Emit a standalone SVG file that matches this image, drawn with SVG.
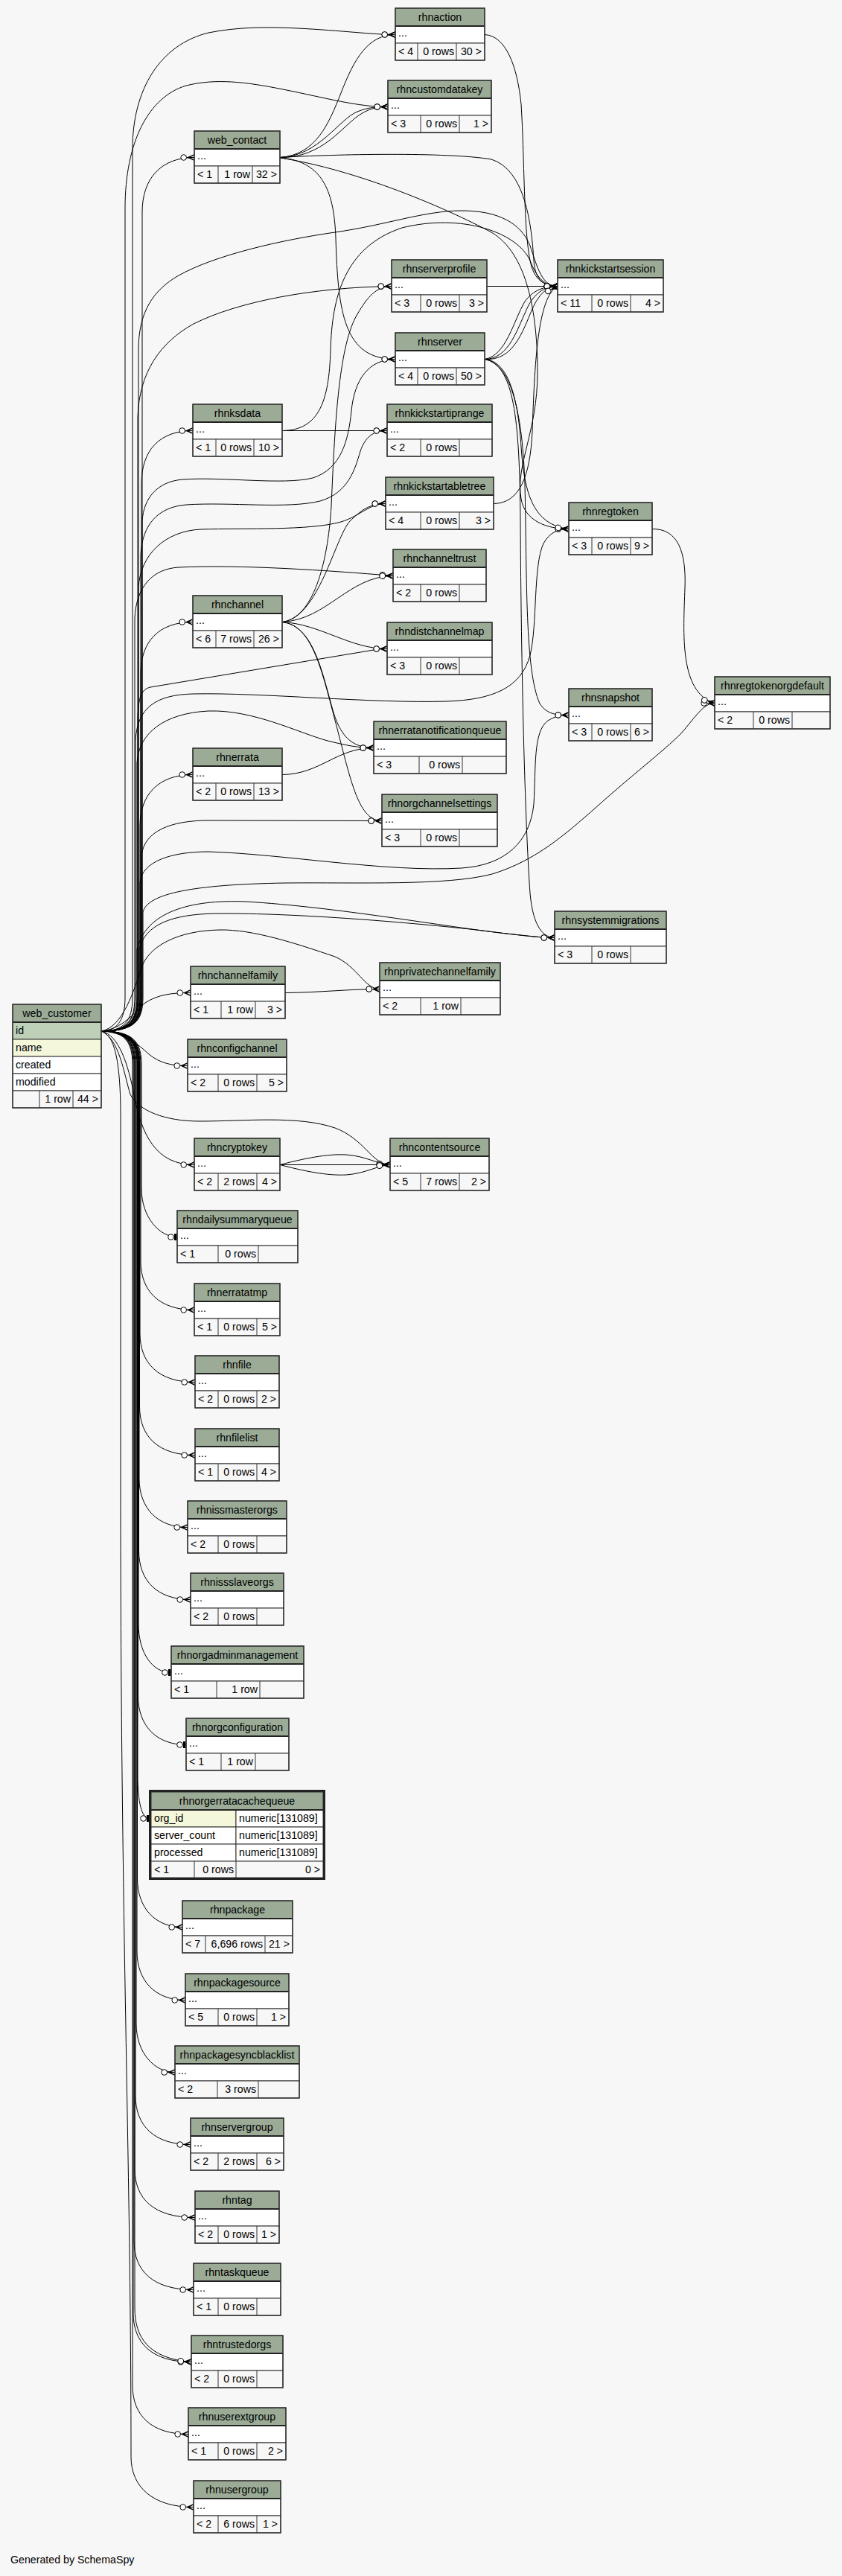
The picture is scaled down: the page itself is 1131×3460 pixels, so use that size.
<svg xmlns="http://www.w3.org/2000/svg" width="1131" height="3460" viewBox="0 0 1131 3460">
<style>
.t{font-family:"Liberation Sans",Arial,Helvetica,sans-serif;font-size:14.2px;fill:#000}
.c{text-anchor:middle}
.r{text-anchor:end}
.h{fill:#9bab96;stroke:#333;stroke-width:1}
.w{fill:#fff;stroke:#333;stroke-width:1}
.f{fill:#f7f7f7;stroke:#333;stroke-width:1}
.s{fill:none;stroke:#333;stroke-width:1}
.hl{fill:none;stroke:#222;stroke-width:2}
.b{fill:none;stroke:#333;stroke-width:1.4}
.e{fill:none;stroke:#000;stroke-width:1;marker-end:url(#crow)}
.o{fill:none;stroke:#000;stroke-width:1;marker-end:url(#tee)}
</style>
<defs>
<marker id="crow" markerUnits="userSpaceOnUse" markerWidth="26" markerHeight="14" viewBox="-22 -7 26 14" refX="0" refY="0" orient="auto" overflow="visible">
<path d="M0,-4.5 L-10,0 L0,4.5 L0,3 L-6,0 L0,-3 Z" fill="#000"/>
<path d="M-10,0 L0,0" stroke="#000" stroke-width="1"/>
<circle cx="-14.3" cy="0" r="3.8" fill="#fff" stroke="#000" stroke-width="1"/>
</marker>
<marker id="tee" markerUnits="userSpaceOnUse" markerWidth="20" markerHeight="14" viewBox="-16 -7 20 14" refX="0" refY="0" orient="auto" overflow="visible">
<rect x="-4" y="-4.5" width="3" height="9" fill="#000"/>
<circle cx="-8.5" cy="0" r="3.8" fill="#fff" stroke="#000" stroke-width="1"/>
</marker>
</defs>
<rect x="0" y="0" width="1131" height="3460" fill="#f7f7f7"/>
<g id="connectors">
<path class="e" d="M136,1385 C179,1385 191,1372 191,1340 L191,285 C191,240 216,211.5 261,211.5"/>
<path class="e" d="M136,1385 C178,1385 190,1372 190,1340 L190,650 C190,605 214,578.5 259,578.5"/>
<path class="e" d="M136,1385 C177,1385 189,1372 189,1340 L189,905 C189,862 213,835.5 259,835.5"/>
<path class="e" d="M136,1385 C176,1385 188,1372 188,1340 L188,1110 C188,1067 213,1040.5 259,1040.5"/>
<path class="e" d="M136,1385 C165,1382 180,1360 195,1347 C212,1336 230,1333.5 256,1333.5"/>
<path class="e" d="M136,1385 C165,1386 185,1402 200,1416 C215,1428 230,1431.5 252,1431.5"/>
<path class="e" d="M136,1385 C160,1390 172,1430 180,1470 C190,1525 210,1564.5 261,1564.5"/>
<path class="o" d="M136,1385 C178,1385 190,1398 190,1430 L190,1596 C190,1636 215,1661.5 238,1661.5"/>
<path class="e" d="M136,1385 C177,1385 189,1398 189,1430 L189,1694 C189,1734 214,1759.5 261,1759.5"/>
<path class="e" d="M136,1385 C176,1385 188,1398 188,1430 L188,1791 C188,1831 213,1856.5 262,1856.5"/>
<path class="e" d="M136,1385 C175,1385 187.5,1398 187.5,1430 L187.5,1889 C187.5,1929 212,1954.5 262,1954.5"/>
<path class="e" d="M136,1385 C175,1385 187,1398 187,1430 L187,1986 C187,2026 212,2051.5 252,2051.5"/>
<path class="e" d="M136,1385 C174,1385 186.5,1398 186.5,1430 L186.5,2083 C186.5,2123 211,2148.5 256,2148.5"/>
<path class="o" d="M136,1385 C174,1385 186,1398 186,1430 L186,2181 C186,2221 205,2246.5 230,2246.5"/>
<path class="o" d="M136,1385 C173,1385 185.5,1398 185.5,1430 L185.5,2278 C185.5,2318 210,2343.5 250,2343.5"/>
<path class="o" d="M136,1385 C173,1385 185,1398 185,1430 L185,2385 C185,2420 190,2442.5 201,2442.5"/>
<path class="e" d="M136,1385 C172,1385 184.5,1398 184.5,1430 L184.5,2523 C184.5,2563 209,2588.5 245,2588.5"/>
<path class="e" d="M136,1385 C172,1385 184,1398 184,1430 L184,2621 C184,2661 209,2686.5 249,2686.5"/>
<path class="e" d="M136,1385 C171,1385 183,1398 183,1430 L183,2718 C183,2758 208,2783.5 235,2783.5"/>
<path class="e" d="M136,1385 C170,1385 182,1398 182,1430 L182,2815 C182,2855 207,2880.5 256,2880.5"/>
<path class="e" d="M136,1385 C169,1385 181,1398 181,1430 L181,2913 C181,2953 206,2978.5 262,2978.5"/>
<path class="e" d="M136,1385 C168,1385 180,1398 180,1430 L180,3010 C180,3050 205,3075.5 260,3075.5"/>
<path class="e" d="M136,1385 C167,1385 179,1398 179,1430 L179,3107 C179,3147 204,3172.5 257,3172.5"/>
<path class="e" d="M136,1385 C169,1385 181,1398 181,1430 L181,3100 C181,3140 200,3168 257,3172.5"/>
<path class="e" d="M136,1385 C166,1385 178,1398 178,1430 L178,3204 C178,3244 203,3269.5 253,3269.5"/>
<path class="e" d="M136,1385 C155,1390 162,1430 162,1500 L162,2000 C162,2600 176,2900 176,3300 C176,3340 205,3367.5 260,3367.5"/>
<path class="e" d="M136,1385 C166,1385 178,1372 178,1340 L178,200 C178,120 215,60 280,44 C320,36 360,36 400,38 C460,41 500,46.5 531,46.5"/>
<path class="e" d="M136,1385 C156,1385 168,1372 168,1340 L168,280 C168,190 200,130 250,115 C290,105 330,110 380,120 C440,132 480,143.5 521,143.5"/>
<path class="e" d="M136,1385 C174,1385 186,1372 186,1340 L186,470 C186,420 205,390 240,370 C290,342 380,322 450,312 C520,302 570,283 620,283 C670,283 700,300 712,330 C722,360 728,384.5 749,384.5"/>
<path class="e" d="M136,1385 C173,1385 185,1372 185,1340 L185,560 C187,500 215,460 260,435 C320,405 420,386 526,384.5"/>
<path class="e" d="M136,1385 C179,1385 191,1372 191,1340 L191,700 C193,668 212,647 245,644 C300,640 380,652 420,642 C458,630 468,592 472,552 C476,510 495,482.5 531,482.5"/>
<path class="e" d="M136,1385 C177,1385 189,1372 189,1340 L189,745 C191,705 212,681 250,678 C310,674 385,684 430,673 C468,662 477,630 484,606 C491,586 502,578.5 520,578.5"/>
<path class="e" d="M136,1385 C174,1385 186,1372 186,1340 L186,790 C188,745 222,713 270,711 C330,709 415,713 458,701 C484,693 496,676.5 518,676.5"/>
<path class="e" d="M136,1385 C169,1385 181,1372 181,1340 L181,830 C183,788 205,764 240,762 C320,758 440,766 528,773.5"/>
<path class="e" d="M136,1385 C173,1385 185,1372 185,1340 L185,965 C186,935 190,926 202,923 L505,872.5 C510,871.5 514,871.5 520,871.5"/>
<path class="e" d="M136,1385 C172,1385 184,1372 184,1340 L184,1025 C186,985 220,958 280,955 C340,953 400,984 440,995 C465,1001 480,1004.5 502,1004.5"/>
<path class="e" d="M136,1385 C170,1385 182,1372 182,1340 L182,995 C184,950 210,933 260,932 C350,930 500,945 600,942 C660,940 700,925 712,880 C722,840 716,760 730,730 C738,716 748,710.5 764,710.5"/>
<path class="e" d="M136,1385 C178,1385 190,1372 190,1340 L190,1150 C193,1116 230,1102 280,1102 L513,1102.5"/>
<path class="e" d="M136,1385 C176,1385 188,1372 188,1340 L188,1185 C191,1157 230,1144 280,1144 C380,1147 520,1172 620,1166 C680,1162 712,1130 717,1080 C720,1030 716,982 736,968 C746,962 752,960.5 764,960.5"/>
<path class="e" d="M136,1385 C180,1385 192,1372 192,1340 L192,1225 C198,1200 260,1188 383,1186 C480,1185 600,1190 661,1174 C720,1156 760,1120 800,1085 C850,1040 890,1010 915,985 C935,962 945,944.5 960,944.5"/>
<path class="e" d="M136,1385 C175,1385 187,1372 187,1340 L187,1275 C195,1242 230,1228 290,1227 C400,1226 560,1240 640,1249 C690,1255 720,1259.5 745,1259.5"/>
<path class="e" d="M136,1385 C172,1385 184,1372 184,1340 L184,1275 C196,1225 255,1208 330,1211 C450,1218 600,1245 680,1254 C710,1257 728,1259.5 745,1259.5"/>
<path class="e" d="M136,1385 C165,1380 180,1330 190,1300 C200,1270 240,1250 295,1249 C340,1248 400,1268 450,1285 C480,1298 490,1328.5 510,1328.5"/>
<path class="e" d="M136,1385 C160,1395 166,1440 175,1470 C186,1492 222,1506 268,1506 C330,1506 400,1498 450,1515 C490,1530 500,1564.5 524,1564.5"/>
<path class="e" d="M376,211.5 C425,208 442,165 458,125 C476,78 495,46.5 531,46.5"/>
<path class="e" d="M376,211.5 C428,210 455,160 480,150 C495,144 505,143.5 521,143.5"/>
<path class="e" d="M376,211.5 C435,212 460,168 485,153 C498,145 508,143.5 521,143.5"/>
<path class="e" d="M376,211.5 C450,207 600,204 660,214 C705,228 714,300 717,350 C719,378 732,384.5 749,384.5"/>
<path class="e" d="M376,212 C480,228 600,280 660,312 C708,340 722,420 722,500 C722,580 692,625 700,670 C705,700 735,710.5 764,710.5"/>
<path class="e" d="M376,212 C436,216 449,262 451,320 C454,420 462,482.5 531,482.5"/>
<path class="e" d="M379,578.5 L520,578.5"/>
<path class="e" d="M379,578.5 C428,578 442,540 444,470 C446,400 462,332 540,306 C620,286 695,312 712,350 C720,372 732,384.5 749,384.5"/>
<path class="e" d="M379,835.5 C420,830 440,760 445,680 C450,560 456,462 480,422 C494,398 506,384.5 526,384.5"/>
<path class="e" d="M379,835.5 C428,830 450,722 470,700 C486,684 498,676.5 518,676.5"/>
<path class="e" d="M379,835.5 C440,832 468,774 528,773.5"/>
<path class="e" d="M379,835.5 C430,838 470,871.5 520,871.5"/>
<path class="e" d="M379,835.5 C420,840 432,900 446,950 C456,988 472,1004.5 502,1004.5"/>
<path class="e" d="M379,835.5 C420,840 432,900 452,975 C472,1052 482,1102.5 513,1102.5"/>
<path class="e" d="M379,1040.5 C430,1040 452,1004.5 502,1004.5"/>
<path class="e" d="M383,1333.5 C430,1333 470,1328.5 510,1328.5"/>
<path class="e" d="M376,1564.5 C420,1553 445,1550 465,1551 C492,1553 505,1563 524,1564.5"/>
<path class="e" d="M376,1564.5 L524,1564.5"/>
<path class="e" d="M376,1564.5 C420,1576 445,1579 465,1578 C492,1576 505,1566 524,1564.5"/>
<path class="e" d="M651,46.5 C680,48 695,90 700,140 C705,220 703,320 714,358 C720,378 734,384.5 749,384.5"/>
<path class="e" d="M654,384.5 L749,384.5"/>
<path class="e" d="M651,482.5 C680,478 690,430 705,405 C716,390 730,384.5 749,384.5"/>
<path class="e" d="M651,482.5 C685,482 695,440 710,410 C720,392 733,384.5 749,384.5"/>
<path class="e" d="M651,482.5 C690,485 702,445 715,415 C724,395 735,384.5 749,384.5"/>
<path class="e" d="M651,482.5 C685,485 696,540 700,600 C704,660 715,705 764,710.5"/>
<path class="e" d="M651,482.5 C688,488 702,560 705,650 C708,780 705,900 725,945 C735,960 748,960.5 764,960.5"/>
<path class="e" d="M651,482.5 C690,490 698,560 699,700 C700,900 705,1100 712,1200 C716,1245 730,1259.5 745,1259.5"/>
<path class="e" d="M663,676.5 C698,676 712,640 715,580 C718,490 722,398 749,384.5"/>
<path class="e" d="M876,710.5 C910,710 922,740 920,790 C918,850 912,930 960,944.5"/>
</g>
<g id="web_contact"><rect class="h" x="261" y="176" width="115" height="24"/><rect class="w" x="261" y="200" width="115" height="23"/><rect class="f" x="261" y="223" width="115" height="23"/><path class="s" d="M293,223v23M339,223v23"/><path class="hl" d="M261,200h115"/><rect class="b" x="261" y="176" width="115" height="70"/><text class="t c" x="318.5" y="192.5">web_contact</text><text class="t" x="265" y="214">...</text><text class="t" x="265" y="238.5">&lt; 1</text><text class="t r" x="336" y="238.5">1 row</text><text class="t r" x="372" y="238.5">32 &gt;</text></g>
<g id="rhnksdata"><rect class="h" x="259" y="543" width="120" height="24"/><rect class="w" x="259" y="567" width="120" height="23"/><rect class="f" x="259" y="590" width="120" height="23"/><path class="s" d="M290,590v23M341,590v23"/><path class="hl" d="M259,567h120"/><rect class="b" x="259" y="543" width="120" height="70"/><text class="t c" x="319" y="559.5">rhnksdata</text><text class="t" x="263" y="581">...</text><text class="t" x="263" y="605.5">&lt; 1</text><text class="t r" x="338" y="605.5">0 rows</text><text class="t r" x="375" y="605.5">10 &gt;</text></g>
<g id="rhnchannel"><rect class="h" x="259" y="800" width="120" height="24"/><rect class="w" x="259" y="824" width="120" height="23"/><rect class="f" x="259" y="847" width="120" height="23"/><path class="s" d="M290,847v23M341,847v23"/><path class="hl" d="M259,824h120"/><rect class="b" x="259" y="800" width="120" height="70"/><text class="t c" x="319" y="816.5">rhnchannel</text><text class="t" x="263" y="838">...</text><text class="t" x="263" y="862.5">&lt; 6</text><text class="t r" x="338" y="862.5">7 rows</text><text class="t r" x="375" y="862.5">26 &gt;</text></g>
<g id="rhnerrata"><rect class="h" x="259" y="1005" width="120" height="24"/><rect class="w" x="259" y="1029" width="120" height="23"/><rect class="f" x="259" y="1052" width="120" height="23"/><path class="s" d="M290,1052v23M341,1052v23"/><path class="hl" d="M259,1029h120"/><rect class="b" x="259" y="1005" width="120" height="70"/><text class="t c" x="319" y="1021.5">rhnerrata</text><text class="t" x="263" y="1043">...</text><text class="t" x="263" y="1067.5">&lt; 2</text><text class="t r" x="338" y="1067.5">0 rows</text><text class="t r" x="375" y="1067.5">13 &gt;</text></g>
<g id="rhnchannelfamily"><rect class="h" x="256" y="1298" width="127" height="24"/><rect class="w" x="256" y="1322" width="127" height="23"/><rect class="f" x="256" y="1345" width="127" height="23"/><path class="s" d="M297,1345v23M343,1345v23"/><path class="hl" d="M256,1322h127"/><rect class="b" x="256" y="1298" width="127" height="70"/><text class="t c" x="319.5" y="1314.5">rhnchannelfamily</text><text class="t" x="260" y="1336">...</text><text class="t" x="260" y="1360.5">&lt; 1</text><text class="t r" x="340" y="1360.5">1 row</text><text class="t r" x="379" y="1360.5">3 &gt;</text></g>
<g id="rhnconfigchannel"><rect class="h" x="252" y="1396" width="133" height="24"/><rect class="w" x="252" y="1420" width="133" height="23"/><rect class="f" x="252" y="1443" width="133" height="23"/><path class="s" d="M293,1443v23M345,1443v23"/><path class="hl" d="M252,1420h133"/><rect class="b" x="252" y="1396" width="133" height="70"/><text class="t c" x="318.5" y="1412.5">rhnconfigchannel</text><text class="t" x="256" y="1434">...</text><text class="t" x="256" y="1458.5">&lt; 2</text><text class="t r" x="342" y="1458.5">0 rows</text><text class="t r" x="381" y="1458.5">5 &gt;</text></g>
<g id="rhncryptokey"><rect class="h" x="261" y="1529" width="115" height="24"/><rect class="w" x="261" y="1553" width="115" height="23"/><rect class="f" x="261" y="1576" width="115" height="23"/><path class="s" d="M293,1576v23M345,1576v23"/><path class="hl" d="M261,1553h115"/><rect class="b" x="261" y="1529" width="115" height="70"/><text class="t c" x="318.5" y="1545.5">rhncryptokey</text><text class="t" x="265" y="1567">...</text><text class="t" x="265" y="1591.5">&lt; 2</text><text class="t r" x="342" y="1591.5">2 rows</text><text class="t r" x="372" y="1591.5">4 &gt;</text></g>
<g id="rhndailysummaryqueue"><rect class="h" x="238" y="1626" width="162" height="24"/><rect class="w" x="238" y="1650" width="162" height="23"/><rect class="f" x="238" y="1673" width="162" height="23"/><path class="s" d="M293,1673v23M347,1673v23"/><path class="hl" d="M238,1650h162"/><rect class="b" x="238" y="1626" width="162" height="70"/><text class="t c" x="319" y="1642.5">rhndailysummaryqueue</text><text class="t" x="242" y="1664">...</text><text class="t" x="242" y="1688.5">&lt; 1</text><text class="t r" x="344" y="1688.5">0 rows</text></g>
<g id="rhnerratatmp"><rect class="h" x="261" y="1724" width="115" height="24"/><rect class="w" x="261" y="1748" width="115" height="23"/><rect class="f" x="261" y="1771" width="115" height="23"/><path class="s" d="M293,1771v23M345,1771v23"/><path class="hl" d="M261,1748h115"/><rect class="b" x="261" y="1724" width="115" height="70"/><text class="t c" x="318.5" y="1740.5">rhnerratatmp</text><text class="t" x="265" y="1762">...</text><text class="t" x="265" y="1786.5">&lt; 1</text><text class="t r" x="342" y="1786.5">0 rows</text><text class="t r" x="372" y="1786.5">5 &gt;</text></g>
<g id="rhnfile"><rect class="h" x="262" y="1821" width="113" height="24"/><rect class="w" x="262" y="1845" width="113" height="23"/><rect class="f" x="262" y="1868" width="113" height="23"/><path class="s" d="M293,1868v23M345,1868v23"/><path class="hl" d="M262,1845h113"/><rect class="b" x="262" y="1821" width="113" height="70"/><text class="t c" x="318.5" y="1837.5">rhnfile</text><text class="t" x="266" y="1859">...</text><text class="t" x="266" y="1883.5">&lt; 2</text><text class="t r" x="342" y="1883.5">0 rows</text><text class="t r" x="371" y="1883.5">2 &gt;</text></g>
<g id="rhnfilelist"><rect class="h" x="262" y="1919" width="113" height="24"/><rect class="w" x="262" y="1943" width="113" height="23"/><rect class="f" x="262" y="1966" width="113" height="23"/><path class="s" d="M293,1966v23M345,1966v23"/><path class="hl" d="M262,1943h113"/><rect class="b" x="262" y="1919" width="113" height="70"/><text class="t c" x="318.5" y="1935.5">rhnfilelist</text><text class="t" x="266" y="1957">...</text><text class="t" x="266" y="1981.5">&lt; 1</text><text class="t r" x="342" y="1981.5">0 rows</text><text class="t r" x="371" y="1981.5">4 &gt;</text></g>
<g id="rhnissmasterorgs"><rect class="h" x="252" y="2016" width="133" height="24"/><rect class="w" x="252" y="2040" width="133" height="23"/><rect class="f" x="252" y="2063" width="133" height="23"/><path class="s" d="M293,2063v23M345,2063v23"/><path class="hl" d="M252,2040h133"/><rect class="b" x="252" y="2016" width="133" height="70"/><text class="t c" x="318.5" y="2032.5">rhnissmasterorgs</text><text class="t" x="256" y="2054">...</text><text class="t" x="256" y="2078.5">&lt; 2</text><text class="t r" x="342" y="2078.5">0 rows</text></g>
<g id="rhnissslaveorgs"><rect class="h" x="256" y="2113" width="125" height="24"/><rect class="w" x="256" y="2137" width="125" height="23"/><rect class="f" x="256" y="2160" width="125" height="23"/><path class="s" d="M293,2160v23M345,2160v23"/><path class="hl" d="M256,2137h125"/><rect class="b" x="256" y="2113" width="125" height="70"/><text class="t c" x="318.5" y="2129.5">rhnissslaveorgs</text><text class="t" x="260" y="2151">...</text><text class="t" x="260" y="2175.5">&lt; 2</text><text class="t r" x="342" y="2175.5">0 rows</text></g>
<g id="rhnorgadminmanagement"><rect class="h" x="230" y="2211" width="178" height="24"/><rect class="w" x="230" y="2235" width="178" height="23"/><rect class="f" x="230" y="2258" width="178" height="23"/><path class="s" d="M291,2258v23M349,2258v23"/><path class="hl" d="M230,2235h178"/><rect class="b" x="230" y="2211" width="178" height="70"/><text class="t c" x="319" y="2227.5">rhnorgadminmanagement</text><text class="t" x="234" y="2249">...</text><text class="t" x="234" y="2273.5">&lt; 1</text><text class="t r" x="346" y="2273.5">1 row</text></g>
<g id="rhnorgconfiguration"><rect class="h" x="250" y="2308" width="138" height="24"/><rect class="w" x="250" y="2332" width="138" height="23"/><rect class="f" x="250" y="2355" width="138" height="23"/><path class="s" d="M297,2355v23M343,2355v23"/><path class="hl" d="M250,2332h138"/><rect class="b" x="250" y="2308" width="138" height="70"/><text class="t c" x="319" y="2324.5">rhnorgconfiguration</text><text class="t" x="254" y="2346">...</text><text class="t" x="254" y="2370.5">&lt; 1</text><text class="t r" x="340" y="2370.5">1 row</text></g>
<g id="rhnorgerratacachequeue"><rect class="h" x="203" y="2407" width="231" height="24"/><rect fill="#f4f7da" stroke="#333" x="203" y="2431" width="114" height="23"/><rect class="w" x="317" y="2431" width="117" height="23"/><rect class="w" x="203" y="2454" width="114" height="23"/><rect class="w" x="317" y="2454" width="117" height="23"/><rect class="w" x="203" y="2477" width="114" height="23"/><rect class="w" x="317" y="2477" width="117" height="23"/><rect class="f" x="203" y="2500" width="231" height="22"/><path class="s" d="M261,2500v22M317,2500v22"/><path class="hl" d="M203,2431h231"/><rect fill="none" stroke="#222" stroke-width="3" x="201.5" y="2405.5" width="234" height="118"/><text class="t c" x="318.5" y="2424">rhnorgerratacachequeue</text><text class="t" x="207" y="2447">org_id</text><text class="t" x="321" y="2447">numeric[131089]</text><text class="t" x="207" y="2470">server_count</text><text class="t" x="321" y="2470">numeric[131089]</text><text class="t" x="207" y="2493">processed</text><text class="t" x="321" y="2493">numeric[131089]</text><text class="t" x="207" y="2516">&lt; 1</text><text class="t r" x="314" y="2516">0 rows</text><text class="t r" x="430" y="2516">0 &gt;</text></g>
<g id="rhnpackage"><rect class="h" x="245" y="2553" width="148" height="24"/><rect class="w" x="245" y="2577" width="148" height="23"/><rect class="f" x="245" y="2600" width="148" height="23"/><path class="s" d="M276,2600v23M356,2600v23"/><path class="hl" d="M245,2577h148"/><rect class="b" x="245" y="2553" width="148" height="70"/><text class="t c" x="319" y="2569.5">rhnpackage</text><text class="t" x="249" y="2591">...</text><text class="t" x="249" y="2615.5">&lt; 7</text><text class="t r" x="353" y="2615.5">6,696 rows</text><text class="t r" x="389" y="2615.5">21 &gt;</text></g>
<g id="rhnpackagesource"><rect class="h" x="249" y="2651" width="139" height="24"/><rect class="w" x="249" y="2675" width="139" height="23"/><rect class="f" x="249" y="2698" width="139" height="23"/><path class="s" d="M293,2698v23M345,2698v23"/><path class="hl" d="M249,2675h139"/><rect class="b" x="249" y="2651" width="139" height="70"/><text class="t c" x="318.5" y="2667.5">rhnpackagesource</text><text class="t" x="253" y="2689">...</text><text class="t" x="253" y="2713.5">&lt; 5</text><text class="t r" x="342" y="2713.5">0 rows</text><text class="t r" x="384" y="2713.5">1 &gt;</text></g>
<g id="rhnpackagesyncblacklist"><rect class="h" x="235" y="2748" width="167" height="24"/><rect class="w" x="235" y="2772" width="167" height="23"/><rect class="f" x="235" y="2795" width="167" height="23"/><path class="s" d="M292,2795v23M347,2795v23"/><path class="hl" d="M235,2772h167"/><rect class="b" x="235" y="2748" width="167" height="70"/><text class="t c" x="318.5" y="2764.5">rhnpackagesyncblacklist</text><text class="t" x="239" y="2786">...</text><text class="t" x="239" y="2810.5">&lt; 2</text><text class="t r" x="344" y="2810.5">3 rows</text></g>
<g id="rhnservergroup"><rect class="h" x="256" y="2845" width="125" height="24"/><rect class="w" x="256" y="2869" width="125" height="23"/><rect class="f" x="256" y="2892" width="125" height="23"/><path class="s" d="M293,2892v23M345,2892v23"/><path class="hl" d="M256,2869h125"/><rect class="b" x="256" y="2845" width="125" height="70"/><text class="t c" x="318.5" y="2861.5">rhnservergroup</text><text class="t" x="260" y="2883">...</text><text class="t" x="260" y="2907.5">&lt; 2</text><text class="t r" x="342" y="2907.5">2 rows</text><text class="t r" x="377" y="2907.5">6 &gt;</text></g>
<g id="rhntag"><rect class="h" x="262" y="2943" width="113" height="24"/><rect class="w" x="262" y="2967" width="113" height="23"/><rect class="f" x="262" y="2990" width="113" height="23"/><path class="s" d="M293,2990v23M345,2990v23"/><path class="hl" d="M262,2967h113"/><rect class="b" x="262" y="2943" width="113" height="70"/><text class="t c" x="318.5" y="2959.5">rhntag</text><text class="t" x="266" y="2981">...</text><text class="t" x="266" y="3005.5">&lt; 2</text><text class="t r" x="342" y="3005.5">0 rows</text><text class="t r" x="371" y="3005.5">1 &gt;</text></g>
<g id="rhntaskqueue"><rect class="h" x="260" y="3040" width="117" height="24"/><rect class="w" x="260" y="3064" width="117" height="23"/><rect class="f" x="260" y="3087" width="117" height="23"/><path class="s" d="M293,3087v23M345,3087v23"/><path class="hl" d="M260,3064h117"/><rect class="b" x="260" y="3040" width="117" height="70"/><text class="t c" x="318.5" y="3056.5">rhntaskqueue</text><text class="t" x="264" y="3078">...</text><text class="t" x="264" y="3102.5">&lt; 1</text><text class="t r" x="342" y="3102.5">0 rows</text></g>
<g id="rhntrustedorgs"><rect class="h" x="257" y="3137" width="123" height="24"/><rect class="w" x="257" y="3161" width="123" height="23"/><rect class="f" x="257" y="3184" width="123" height="23"/><path class="s" d="M293,3184v23M345,3184v23"/><path class="hl" d="M257,3161h123"/><rect class="b" x="257" y="3137" width="123" height="70"/><text class="t c" x="318.5" y="3153.5">rhntrustedorgs</text><text class="t" x="261" y="3175">...</text><text class="t" x="261" y="3199.5">&lt; 2</text><text class="t r" x="342" y="3199.5">0 rows</text></g>
<g id="rhnuserextgroup"><rect class="h" x="253" y="3234" width="131" height="24"/><rect class="w" x="253" y="3258" width="131" height="23"/><rect class="f" x="253" y="3281" width="131" height="23"/><path class="s" d="M293,3281v23M345,3281v23"/><path class="hl" d="M253,3258h131"/><rect class="b" x="253" y="3234" width="131" height="70"/><text class="t c" x="318.5" y="3250.5">rhnuserextgroup</text><text class="t" x="257" y="3272">...</text><text class="t" x="257" y="3296.5">&lt; 1</text><text class="t r" x="342" y="3296.5">0 rows</text><text class="t r" x="380" y="3296.5">2 &gt;</text></g>
<g id="rhnusergroup"><rect class="h" x="260" y="3332" width="117" height="24"/><rect class="w" x="260" y="3356" width="117" height="23"/><rect class="f" x="260" y="3379" width="117" height="23"/><path class="s" d="M293,3379v23M345,3379v23"/><path class="hl" d="M260,3356h117"/><rect class="b" x="260" y="3332" width="117" height="70"/><text class="t c" x="318.5" y="3348.5">rhnusergroup</text><text class="t" x="264" y="3370">...</text><text class="t" x="264" y="3394.5">&lt; 2</text><text class="t r" x="342" y="3394.5">6 rows</text><text class="t r" x="373" y="3394.5">1 &gt;</text></g>
<g id="rhnaction"><rect class="h" x="531" y="11" width="120" height="24"/><rect class="w" x="531" y="35" width="120" height="23"/><rect class="f" x="531" y="58" width="120" height="23"/><path class="s" d="M561,58v23M613,58v23"/><path class="hl" d="M531,35h120"/><rect class="b" x="531" y="11" width="120" height="70"/><text class="t c" x="591" y="27.5">rhnaction</text><text class="t" x="535" y="49">...</text><text class="t" x="535" y="73.5">&lt; 4</text><text class="t r" x="610" y="73.5">0 rows</text><text class="t r" x="647" y="73.5">30 &gt;</text></g>
<g id="rhncustomdatakey"><rect class="h" x="521" y="108" width="139" height="24"/><rect class="w" x="521" y="132" width="139" height="23"/><rect class="f" x="521" y="155" width="139" height="23"/><path class="s" d="M565,155v23M617,155v23"/><path class="hl" d="M521,132h139"/><rect class="b" x="521" y="108" width="139" height="70"/><text class="t c" x="590.5" y="124.5">rhncustomdatakey</text><text class="t" x="525" y="146">...</text><text class="t" x="525" y="170.5">&lt; 3</text><text class="t r" x="614" y="170.5">0 rows</text><text class="t r" x="656" y="170.5">1 &gt;</text></g>
<g id="rhnserverprofile"><rect class="h" x="526" y="349" width="128" height="24"/><rect class="w" x="526" y="373" width="128" height="23"/><rect class="f" x="526" y="396" width="128" height="23"/><path class="s" d="M565,396v23M617,396v23"/><path class="hl" d="M526,373h128"/><rect class="b" x="526" y="349" width="128" height="70"/><text class="t c" x="590" y="365.5">rhnserverprofile</text><text class="t" x="530" y="387">...</text><text class="t" x="530" y="411.5">&lt; 3</text><text class="t r" x="614" y="411.5">0 rows</text><text class="t r" x="650" y="411.5">3 &gt;</text></g>
<g id="rhnserver"><rect class="h" x="531" y="447" width="120" height="24"/><rect class="w" x="531" y="471" width="120" height="23"/><rect class="f" x="531" y="494" width="120" height="23"/><path class="s" d="M561,494v23M613,494v23"/><path class="hl" d="M531,471h120"/><rect class="b" x="531" y="447" width="120" height="70"/><text class="t c" x="591" y="463.5">rhnserver</text><text class="t" x="535" y="485">...</text><text class="t" x="535" y="509.5">&lt; 4</text><text class="t r" x="610" y="509.5">0 rows</text><text class="t r" x="647" y="509.5">50 &gt;</text></g>
<g id="rhnkickstartiprange"><rect class="h" x="520" y="543" width="141" height="24"/><rect class="w" x="520" y="567" width="141" height="23"/><rect class="f" x="520" y="590" width="141" height="23"/><path class="s" d="M565,590v23M617,590v23"/><path class="hl" d="M520,567h141"/><rect class="b" x="520" y="543" width="141" height="70"/><text class="t c" x="590.5" y="559.5">rhnkickstartiprange</text><text class="t" x="524" y="581">...</text><text class="t" x="524" y="605.5">&lt; 2</text><text class="t r" x="614" y="605.5">0 rows</text></g>
<g id="rhnkickstartabletree"><rect class="h" x="518" y="641" width="145" height="24"/><rect class="w" x="518" y="665" width="145" height="23"/><rect class="f" x="518" y="688" width="145" height="23"/><path class="s" d="M565,688v23M617,688v23"/><path class="hl" d="M518,665h145"/><rect class="b" x="518" y="641" width="145" height="70"/><text class="t c" x="590.5" y="657.5">rhnkickstartabletree</text><text class="t" x="522" y="679">...</text><text class="t" x="522" y="703.5">&lt; 4</text><text class="t r" x="614" y="703.5">0 rows</text><text class="t r" x="659" y="703.5">3 &gt;</text></g>
<g id="rhnchanneltrust"><rect class="h" x="528" y="738" width="125" height="24"/><rect class="w" x="528" y="762" width="125" height="23"/><rect class="f" x="528" y="785" width="125" height="23"/><path class="s" d="M565,785v23M617,785v23"/><path class="hl" d="M528,762h125"/><rect class="b" x="528" y="738" width="125" height="70"/><text class="t c" x="590.5" y="754.5">rhnchanneltrust</text><text class="t" x="532" y="776">...</text><text class="t" x="532" y="800.5">&lt; 2</text><text class="t r" x="614" y="800.5">0 rows</text></g>
<g id="rhndistchannelmap"><rect class="h" x="520" y="836" width="141" height="24"/><rect class="w" x="520" y="860" width="141" height="23"/><rect class="f" x="520" y="883" width="141" height="23"/><path class="s" d="M565,883v23M617,883v23"/><path class="hl" d="M520,860h141"/><rect class="b" x="520" y="836" width="141" height="70"/><text class="t c" x="590.5" y="852.5">rhndistchannelmap</text><text class="t" x="524" y="874">...</text><text class="t" x="524" y="898.5">&lt; 3</text><text class="t r" x="614" y="898.5">0 rows</text></g>
<g id="rhnerratanotificationqueue"><rect class="h" x="502" y="969" width="178" height="24"/><rect class="w" x="502" y="993" width="178" height="23"/><rect class="f" x="502" y="1016" width="178" height="23"/><path class="s" d="M563,1016v23M621,1016v23"/><path class="hl" d="M502,993h178"/><rect class="b" x="502" y="969" width="178" height="70"/><text class="t c" x="591" y="985.5">rhnerratanotificationqueue</text><text class="t" x="506" y="1007">...</text><text class="t" x="506" y="1031.5">&lt; 3</text><text class="t r" x="618" y="1031.5">0 rows</text></g>
<g id="rhnorgchannelsettings"><rect class="h" x="513" y="1067" width="155" height="24"/><rect class="w" x="513" y="1091" width="155" height="23"/><rect class="f" x="513" y="1114" width="155" height="23"/><path class="s" d="M565,1114v23M617,1114v23"/><path class="hl" d="M513,1091h155"/><rect class="b" x="513" y="1067" width="155" height="70"/><text class="t c" x="590.5" y="1083.5">rhnorgchannelsettings</text><text class="t" x="517" y="1105">...</text><text class="t" x="517" y="1129.5">&lt; 3</text><text class="t r" x="614" y="1129.5">0 rows</text></g>
<g id="rhnprivatechannelfamily"><rect class="h" x="510" y="1293" width="162" height="24"/><rect class="w" x="510" y="1317" width="162" height="23"/><rect class="f" x="510" y="1340" width="162" height="23"/><path class="s" d="M565,1340v23M619,1340v23"/><path class="hl" d="M510,1317h162"/><rect class="b" x="510" y="1293" width="162" height="70"/><text class="t c" x="591" y="1309.5">rhnprivatechannelfamily</text><text class="t" x="514" y="1331">...</text><text class="t" x="514" y="1355.5">&lt; 2</text><text class="t r" x="616" y="1355.5">1 row</text></g>
<g id="rhncontentsource"><rect class="h" x="524" y="1529" width="133" height="24"/><rect class="w" x="524" y="1553" width="133" height="23"/><rect class="f" x="524" y="1576" width="133" height="23"/><path class="s" d="M565,1576v23M617,1576v23"/><path class="hl" d="M524,1553h133"/><rect class="b" x="524" y="1529" width="133" height="70"/><text class="t c" x="590.5" y="1545.5">rhncontentsource</text><text class="t" x="528" y="1567">...</text><text class="t" x="528" y="1591.5">&lt; 5</text><text class="t r" x="614" y="1591.5">7 rows</text><text class="t r" x="653" y="1591.5">2 &gt;</text></g>
<g id="rhnkickstartsession"><rect class="h" x="749" y="349" width="142" height="24"/><rect class="w" x="749" y="373" width="142" height="23"/><rect class="f" x="749" y="396" width="142" height="23"/><path class="s" d="M795,396v23M847,396v23"/><path class="hl" d="M749,373h142"/><rect class="b" x="749" y="349" width="142" height="70"/><text class="t c" x="820" y="365.5">rhnkickstartsession</text><text class="t" x="753" y="387">...</text><text class="t" x="753" y="411.5">&lt; 11</text><text class="t r" x="844" y="411.5">0 rows</text><text class="t r" x="887" y="411.5">4 &gt;</text></g>
<g id="rhnregtoken"><rect class="h" x="764" y="675" width="112" height="24"/><rect class="w" x="764" y="699" width="112" height="23"/><rect class="f" x="764" y="722" width="112" height="23"/><path class="s" d="M795,722v23M847,722v23"/><path class="hl" d="M764,699h112"/><rect class="b" x="764" y="675" width="112" height="70"/><text class="t c" x="820" y="691.5">rhnregtoken</text><text class="t" x="768" y="713">...</text><text class="t" x="768" y="737.5">&lt; 3</text><text class="t r" x="844" y="737.5">0 rows</text><text class="t r" x="872" y="737.5">9 &gt;</text></g>
<g id="rhnsnapshot"><rect class="h" x="764" y="925" width="112" height="24"/><rect class="w" x="764" y="949" width="112" height="23"/><rect class="f" x="764" y="972" width="112" height="23"/><path class="s" d="M795,972v23M847,972v23"/><path class="hl" d="M764,949h112"/><rect class="b" x="764" y="925" width="112" height="70"/><text class="t c" x="820" y="941.5">rhnsnapshot</text><text class="t" x="768" y="963">...</text><text class="t" x="768" y="987.5">&lt; 3</text><text class="t r" x="844" y="987.5">0 rows</text><text class="t r" x="872" y="987.5">6 &gt;</text></g>
<g id="rhnsystemmigrations"><rect class="h" x="745" y="1224" width="150" height="24"/><rect class="w" x="745" y="1248" width="150" height="23"/><rect class="f" x="745" y="1271" width="150" height="23"/><path class="s" d="M795,1271v23M847,1271v23"/><path class="hl" d="M745,1248h150"/><rect class="b" x="745" y="1224" width="150" height="70"/><text class="t c" x="820" y="1240.5">rhnsystemmigrations</text><text class="t" x="749" y="1262">...</text><text class="t" x="749" y="1286.5">&lt; 3</text><text class="t r" x="844" y="1286.5">0 rows</text></g>
<g id="rhnregtokenorgdefault"><rect class="h" x="960" y="909" width="155" height="24"/><rect class="w" x="960" y="933" width="155" height="23"/><rect class="f" x="960" y="956" width="155" height="23"/><path class="s" d="M1012,956v23M1064,956v23"/><path class="hl" d="M960,933h155"/><rect class="b" x="960" y="909" width="155" height="70"/><text class="t c" x="1037.5" y="925.5">rhnregtokenorgdefault</text><text class="t" x="964" y="947">...</text><text class="t" x="964" y="971.5">&lt; 2</text><text class="t r" x="1061" y="971.5">0 rows</text></g>
<g id="web_customer"><rect class="h" x="17" y="1349" width="119" height="24"/><rect fill="#bed1b8" stroke="#333" x="17" y="1373" width="119" height="23"/><rect fill="#f4f7da" stroke="#333" x="17" y="1396" width="119" height="23"/><rect class="w" x="17" y="1419" width="119" height="23"/><rect class="w" x="17" y="1442" width="119" height="23"/><rect class="f" x="17" y="1465" width="119" height="23"/><path class="s" d="M53,1465v23M98,1465v23"/><path class="hl" d="M17,1373h119"/><rect class="b" x="17" y="1349" width="119" height="139"/><text class="t c" x="76.5" y="1365.5">web_customer</text><text class="t" x="21" y="1389">id</text><text class="t" x="21" y="1412">name</text><text class="t" x="21" y="1435">created</text><text class="t" x="21" y="1458">modified</text><text class="t r" x="95" y="1481">1 row</text><text class="t r" x="132" y="1481">44 &gt;</text></g>
<text class="t" x="14" y="3443">Generated by SchemaSpy</text>
</svg>
